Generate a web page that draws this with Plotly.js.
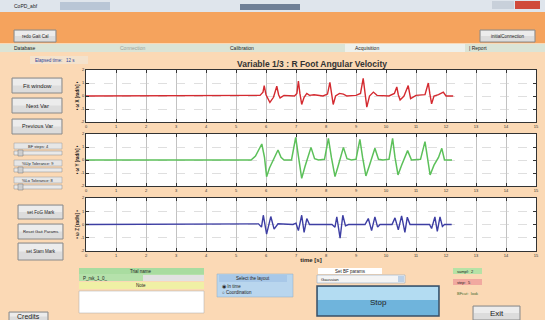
<!DOCTYPE html>
<html><head><meta charset="utf-8">
<script src="https://cdn.plot.ly/plotly-3.0.1.min.js"></script>
<style>html,body{margin:0;padding:0;background:#fbd9b5;}#chart{width:545px;height:320px;}</style>
</head><body><div id="chart"></div>
<script>
// ---- data (time [s], angular velocity [rad/s]) ----
const chartTitle = "Variable 1/3 : R Foot Angular Velocity";
const xTitle = "time [s]";
const yTitles = ["ω X [rad/s]", "ω Y [rad/s]", "ω Z [rad/s]"];
const xTicks = [0,1,2,3,4,5,6,7,8,9,10,11,12,13,14,15];
const yTicks = [-2,-1,0,1,2];

const redSamples = [[0,0],[5.8,0.05],[5.9,0.3],[5.94,0.8],[6.0,0.1],[6.13,-0.5],[6.25,-0.1],[6.36,0.75],[6.42,0.1],[6.47,-0.15],[6.6,0.05],[6.95,0],[7.03,0.2],[7.08,1.15],[7.13,0.2],[7.19,-0.65],[7.27,-0.1],[7.36,0.2],[7.45,0.05],[7.6,0.1],[7.9,0],[8.05,0.15],[8.13,1.05],[8.18,0.2],[8.24,-0.65],[8.32,0],[8.45,0.2],[8.58,0.15],[8.7,0],[9.0,0.05],[9.15,0.2],[9.24,1.35],[9.29,0.3],[9.36,-0.85],[9.45,0],[9.58,0.3],[9.7,0.05],[10.1,0],[10.28,0.2],[10.36,0.7],[10.41,0.1],[10.47,-0.3],[10.6,0],[10.74,0.8],[10.82,-0.2],[11.0,0.05],[11.3,0.1],[11.41,1.0],[11.46,0.2],[11.52,-0.6],[11.6,0],[11.75,0.1],[11.91,0.3],[12.0,0],[12.24,0]];

const greenSamples = [[0,0],[5.5,0],[5.65,0.3],[5.86,1.23],[5.95,0.2],[6.02,-1.28],[6.12,-0.6],[6.25,0.1],[6.4,0.77],[6.5,0.2],[6.6,0],[6.85,0],[6.99,1.74],[7.08,0.3],[7.19,-1.41],[7.3,-0.5],[7.4,0.2],[7.5,0.97],[7.62,0.1],[7.75,0],[7.95,0.05],[8.08,1.67],[8.18,0.2],[8.3,-1.28],[8.4,-0.5],[8.48,0.2],[8.58,0.97],[8.7,0.1],[8.85,0],[9.0,0.05],[9.13,1.59],[9.22,0.2],[9.33,-1.23],[9.45,-0.4],[9.53,0.2],[9.63,0.9],[9.75,0.05],[9.9,0],[10.1,0.05],[10.22,1.67],[10.3,0.2],[10.4,-1.15],[10.52,-0.4],[10.62,0.1],[10.72,0.72],[10.85,0],[11.0,0],[11.15,0.05],[11.3,1.41],[11.38,0.2],[11.47,-1.15],[11.6,-0.4],[11.75,0.2],[11.86,0.9],[11.95,0],[12.2,0]];

const blueSamples = [[0,0],[5.45,0],[5.75,0.05],[5.85,-0.2],[5.91,0.7],[6.02,-0.72],[6.16,0.6],[6.27,-0.35],[6.4,0.05],[6.9,0],[7.0,0.1],[7.08,-0.46],[7.19,0.7],[7.27,-0.6],[7.36,0.45],[7.45,0],[8.2,0],[8.3,-0.2],[8.36,0.58],[8.47,-1.03],[8.56,0.7],[8.65,-0.1],[8.75,0],[9.3,0],[9.41,0.45],[9.52,-0.46],[9.63,0.58],[9.72,-0.2],[9.8,0],[10.2,0],[10.3,0.5],[10.41,-0.4],[10.52,0.65],[10.63,-0.6],[10.71,0.55],[10.8,0],[11.45,0],[11.52,-0.3],[11.63,0.58],[11.71,-0.52],[11.8,0.58],[11.88,-0.15],[11.95,0],[12.19,0]];

// ---- layout helpers (pixel -> paper) ----
const W = 545, H = 320;
const px = x => x / W;
const py = y => 1 - y / H;
const shapes = [];
const ann = [];
function rect(x0,y0,x1,y1,fill,line,lw){
  shapes.push({type:'rect',xref:'paper',yref:'paper',x0:px(x0),x1:px(x1),y0:py(y1),y1:py(y0),
    fillcolor:fill,line:{color:line||fill,width:lw===undefined?(line?1:0):lw},layer:'below'});
}
function txt(x,y,t,size,color,anchor,bold){
  ann.push({xref:'paper',yref:'paper',x:px(x),y:py(y),text:bold?'<b>'+t+'</b>':t,showarrow:false,
    xanchor:anchor||'center',yanchor:'middle',font:{size:size||5,color:color||'#222',family:'Liberation Sans, Arial, sans-serif'}});
}
function button(x0,y0,x1,y1,label,size){
  rect(x0,y0,x1,y1,'#dcdcdc','#8a8a8a',1);
  rect(x0+1,y0+1,x1-1,(y0+y1)/2,'#ececec');
  txt((x0+x1)/2,(y0+y1)/2,label,size||5,'#222');
}

// window chrome
rect(0,0,545,12,'#dfe5ec');
rect(60,2,110,10,'#b9c6d6');
rect(240,4,300,10,'#6f7f96');
rect(515,1,540,9,'#d04a3a');
rect(492,1,514,9,'#c8d0da');
txt(12,6,'CoPD_abf',5,'#222','left');
rect(0,12,545,43,'#f5a35d');
button(14,30,56,42,'redo Gait Cal',4.5);
button(480,30,535,42,'initialConnection',4.5);
// tab bar
rect(0,44,545,52,'#dbe4d6');
rect(345,44,465,52,'#eef1ec');
txt(12,48,'Database',5,'#222','left');
txt(118,48,'Connection',5,'#9aa39a','left');
txt(228,48,'Calibration',5,'#222','left');
txt(353,48,'Acquisition',5,'#222','left');
txt(467,48,'| Report',5,'#222','left');
// left column
txt(33,60,'Elapsed time:   12 s',4.5,'#2c3f9a','left');
rect(30,56,88,64,'#f4e2cc');
button(12,78,62,93,'Fit window',6);
button(12,98,62,113,'Next Var',6);
button(12,119,62,134,'Previous Var',5.5);
const sliders = [['BF steps: 4',146],['%Up Tolerance: 9',163],['%Lo Tolerance: 8',180]];
sliders.forEach(s=>{ rect(14,s[1]-3,62,s[1]+3,'#e6e6e6','#9a9a9a',0.5); txt(38,s[1],s[0],4,'#222');
  rect(14,s[1]+5,62,s[1]+9,'#e9e9e9','#8a8a8a',0.5); rect(18,s[1]+4,23,s[1]+10,'#cfcfcf','#777',0.5);});
button(18,205,63,219,'set FoG Mark',4.5);
button(18,224,63,239,'Reset Gait Params',4.2);
button(18,243,63,260,'set Stam Mark',4.5);
// bottom panels
rect(79,268,204,274,'#a9dca0');
txt(141,271,'Trial name',4.5,'#222');
rect(79,274,204,281,'#b5e1ab');
rect(143,275,204,281,'#e2e2e2');
txt(81,278,'P_rsk_1_0_',4.5,'#222','left');
rect(79,282,204,289,'#f0f0a5');
txt(141,285.5,'Note',4.5,'#222');
rect(79,291,204,313,'#ffffff','#aaaaaa',0.5);
rect(217,274,293,297,'#b9d6ee','#8fa9c2',0.5);
rect(219,275,287,282,'#a8c8e8');
txt(253,278.5,'Select the layout',4.5,'#222');
txt(220,286,'◉ In time',4.5,'#222','left');
txt(220,292,'○ Coordination',4.5,'#222','left');
rect(318,268,382,274,'#ffffff');
txt(350,271,'Set BF params',4.5,'#222');
rect(317,275,405,283,'#f4f4f4','#7f9fbf',0.5);
txt(319,279,'Gaussian',4.2,'#222','left');
rect(398,276,404,282,'#bcd0e6');
rect(317,286,439,316,'#6fb4dc','#3a4f66',1.5);
rect(318,287,438,300,'#b3dcf2');
txt(378,302,'Stop',8,'#222');
rect(453,268,482,274,'#b6e2a6');
txt(455,271,'sampl:  2',4,'#222','left');
rect(453,279,482,285,'#f1a9a0');
txt(455,282,'step:  5',4,'#222','left');
txt(455,293,'BFcut:  look',4,'#3a6a2a','left');
button(473,306,520,320,'Exit',8);
button(9,312,48,321,'Credits',7);

// ---- traces ----
const traces = [
  {x:redSamples.map(p=>p[0]), y:redSamples.map(p=>p[1]), xaxis:'x', yaxis:'y', type:'scatter', mode:'lines', line:{color:'#d42a30',width:1.4}, hoverinfo:'skip'},
  {x:greenSamples.map(p=>p[0]), y:greenSamples.map(p=>p[1]), xaxis:'x2', yaxis:'y2', type:'scatter', mode:'lines', line:{color:'#5cc05a',width:1.5}, hoverinfo:'skip'},
  {x:blueSamples.map(p=>p[0]), y:blueSamples.map(p=>p[1]), xaxis:'x3', yaxis:'y3', type:'scatter', mode:'lines', line:{color:'#3d3ea3',width:1.4}, hoverinfo:'skip'}
];

const xDom = [px(86), px(536)];
const yDoms = [[py(122),py(70)],[py(186),py(134)],[py(251),py(198)]];
function xAx(anchor, withTitle){
  const a = {domain:xDom, range:[0,15], anchor:anchor, tickvals:xTicks, ticktext:xTicks.map(String),
    showgrid:true, gridcolor:'#9a9a9a', gridwidth:0.6, zeroline:false, showline:true, linecolor:'#333', linewidth:1,
    mirror:'ticks', ticks:'inside', ticklen:3, tickcolor:'#333', tickfont:{size:4,color:'#333'}, fixedrange:true};
  if(withTitle){ a.title = {text:'<b>'+xTitle+'</b>', font:{size:6,color:'#222'}, standoff:1}; }
  return a;
}
function yAx(anchor, i){
  return {domain:yDoms[i], range:[-2,2], anchor:anchor, tickvals:yTicks, ticktext:yTicks.map(String),
    showgrid:true, gridcolor:'#c9c9c9', griddash:'dash', gridwidth:0.6, zeroline:false, showline:true,
    linecolor:'#333', linewidth:1, mirror:'ticks', ticks:'inside', ticklen:3, tickcolor:'#333',
    tickfont:{size:4,color:'#333'}, fixedrange:true,
    title:{text:'<b>• '+yTitles[i]+' •</b>', font:{size:4.5,color:'#222'}, standoff:1}};
}

const layout = {
  width:W, height:H, margin:{l:0,r:0,t:0,b:0},
  paper_bgcolor:'#fbd9b5', plot_bgcolor:'#ffffff', showlegend:false,
  title:{text:'<b>'+chartTitle+'</b>', x:px(312), y:py(64), xanchor:'center', yanchor:'middle',
    font:{size:8.5,color:'#333',family:'Liberation Sans, Arial, sans-serif'}},
  font:{family:'Liberation Sans, Arial, sans-serif'},
  xaxis:xAx('y',false), xaxis2:xAx('y2',false), xaxis3:xAx('y3',true),
  yaxis:yAx('x',0), yaxis2:yAx('x2',1), yaxis3:yAx('x3',2),
  shapes:shapes, annotations:ann
};
Plotly.newPlot('chart', traces, layout, {staticPlot:true, displayModeBar:false});
</script></body></html>
